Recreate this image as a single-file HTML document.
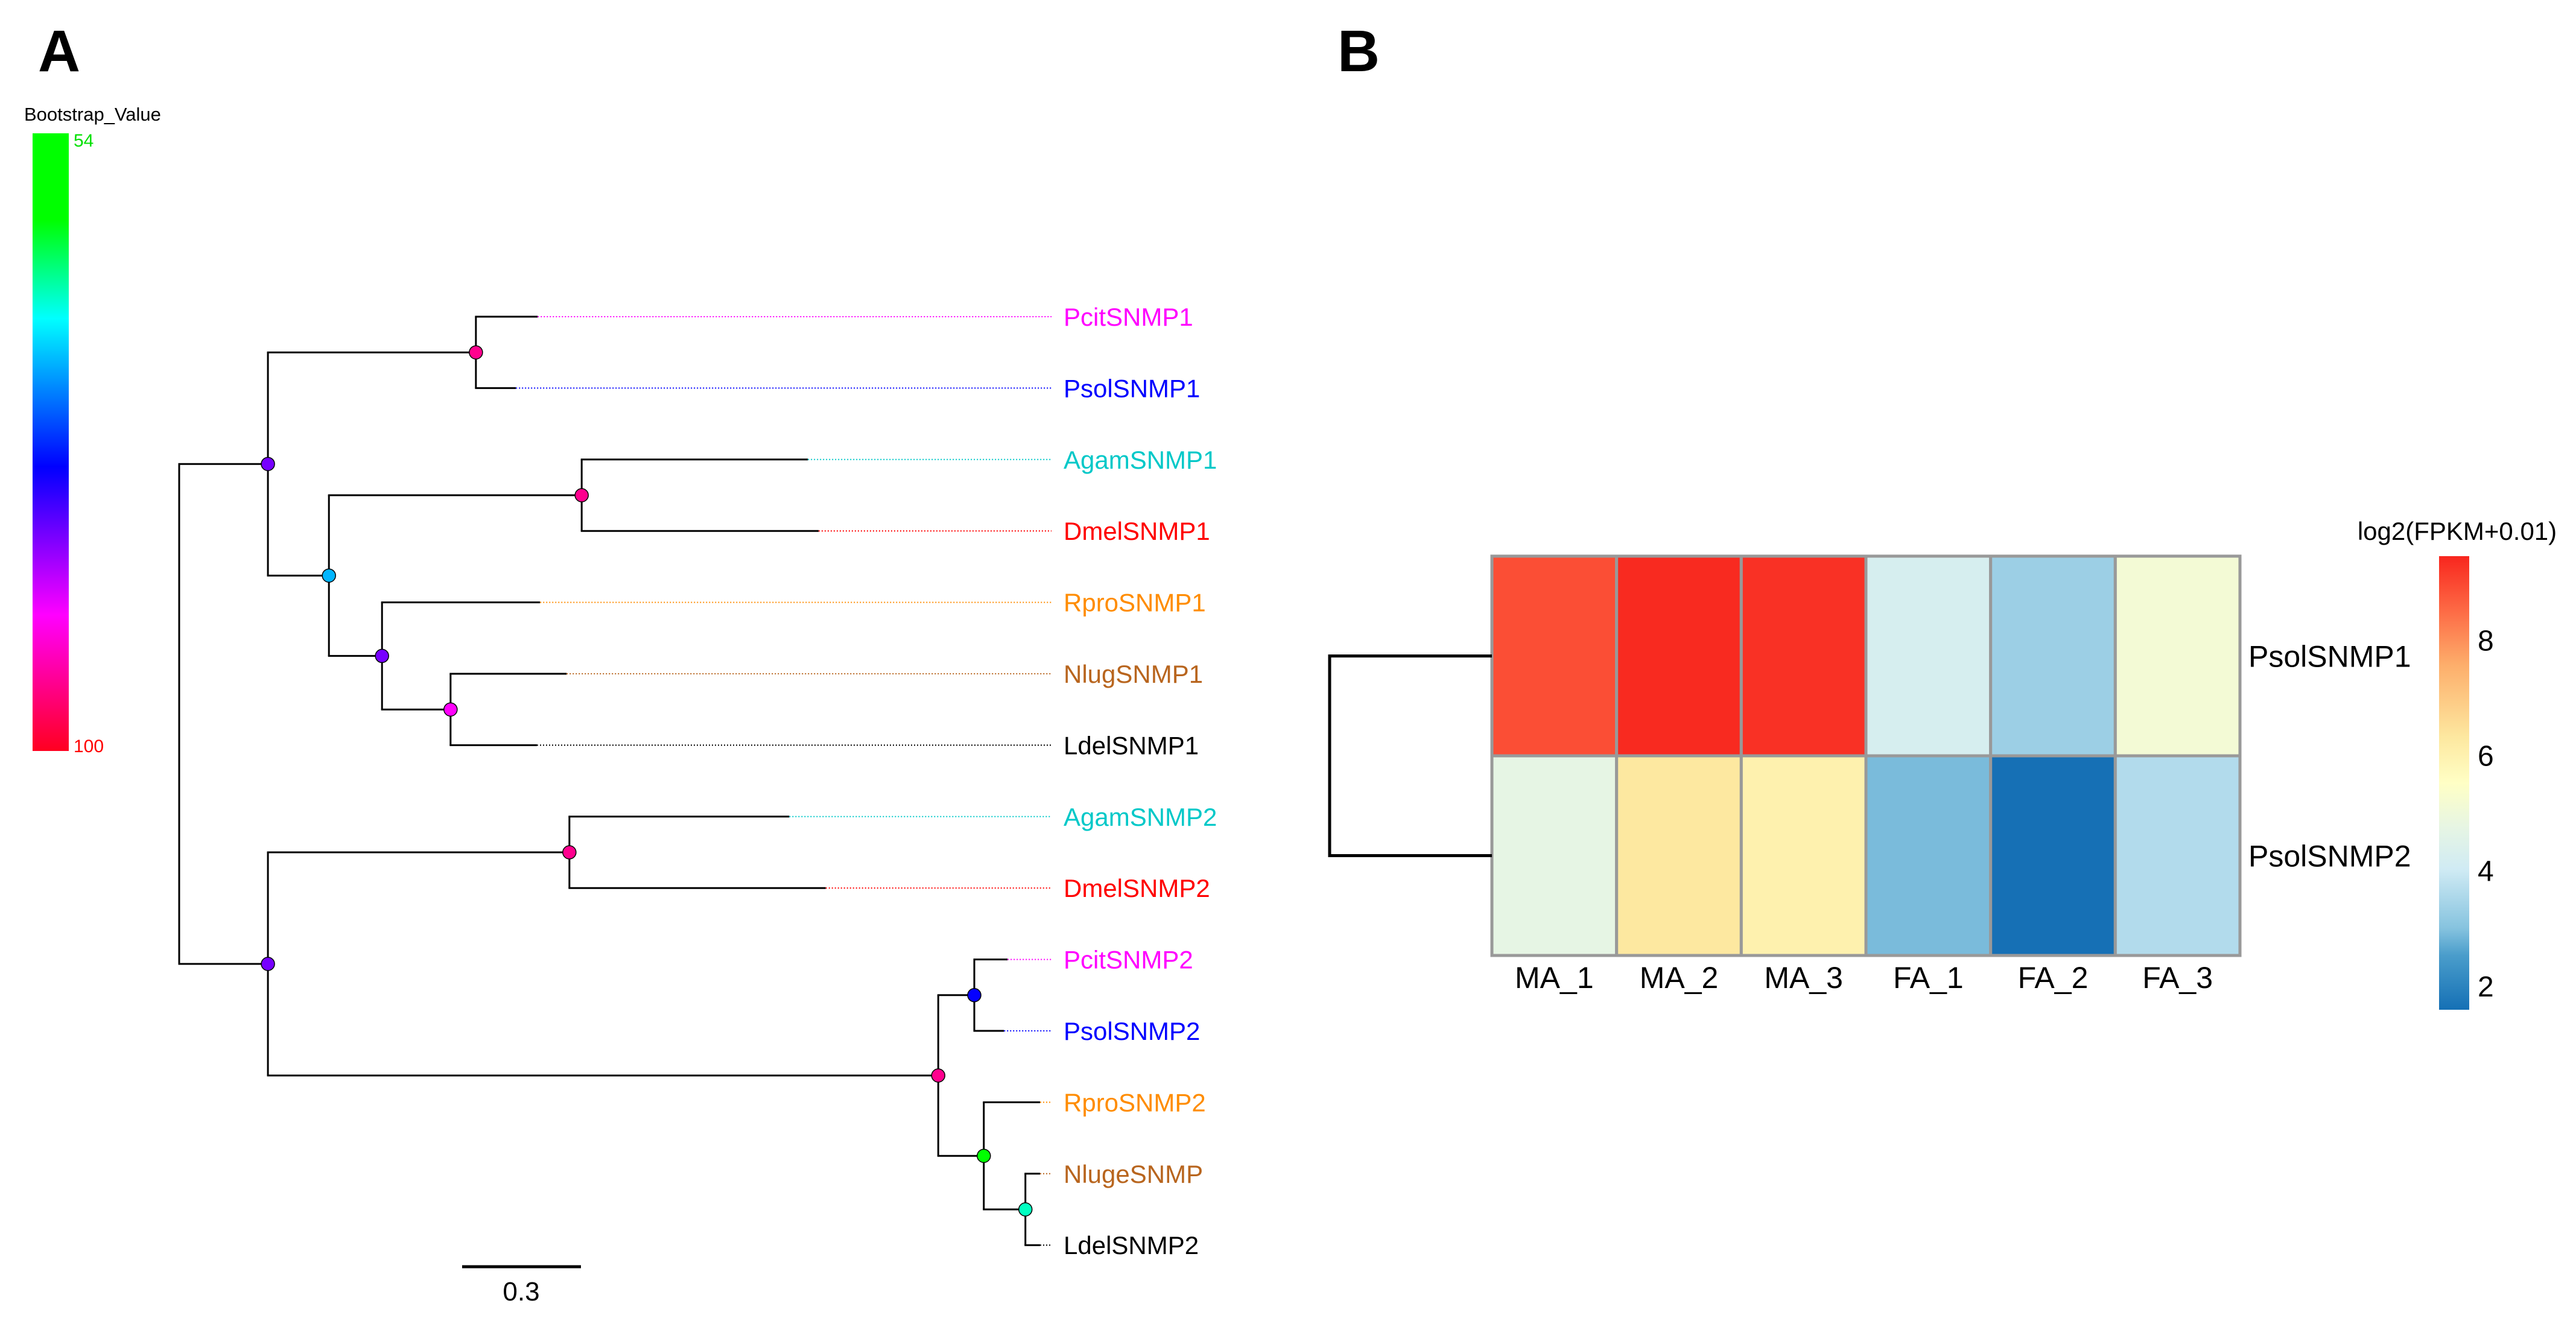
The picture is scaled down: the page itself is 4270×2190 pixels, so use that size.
<!DOCTYPE html>
<html><head><meta charset="utf-8"><style>
html,body{margin:0;padding:0;background:#fff;}
svg{display:block;font-family:"Liberation Sans",sans-serif;}
</style></head><body>
<svg id="fig" width="4270" height="2190" viewBox="0 0 4270 2190" xmlns="http://www.w3.org/2000/svg">
<defs>
<linearGradient id="bsgrad" x1="0" y1="0" x2="0" y2="1">
<stop offset="0" stop-color="#00ff00"/><stop offset="0.14" stop-color="#00ff00"/>
<stop offset="0.30" stop-color="#00ffff"/><stop offset="0.54" stop-color="#0000ff"/>
<stop offset="0.78" stop-color="#ff00ff"/><stop offset="1" stop-color="#ff0020"/>
</linearGradient>
<linearGradient id="hmgrad" x1="0" y1="1" x2="0" y2="0">
<stop offset="0" stop-color="#1570b5"/><stop offset="0.12" stop-color="#4a9dcb"/>
<stop offset="0.18" stop-color="#86c3df"/><stop offset="0.31" stop-color="#d0ebf4"/>
<stop offset="0.40" stop-color="#e6f5e4"/><stop offset="0.50" stop-color="#ffffc5"/>
<stop offset="0.60" stop-color="#fde8a0"/><stop offset="0.76" stop-color="#fdae6b"/>
<stop offset="0.88" stop-color="#fd6a45"/><stop offset="1" stop-color="#f8261e"/>
</linearGradient>
</defs>
<text x="63" y="118" font-size="97" font-weight="bold">A</text>
<text x="2217" y="118" font-size="97" font-weight="bold">B</text>
<text x="40" y="200" font-size="31">Bootstrap_Value</text>
<rect x="54" y="221" width="60" height="1024" fill="url(#bsgrad)"/>
<text x="122" y="243" font-size="30" fill="#00e000">54</text>
<text x="122" y="1247" font-size="30" fill="#ff0000">100</text>
<g id="tree"></g>
<line x1="766" y1="2100" x2="963" y2="2100" stroke="#000" stroke-width="5"/>
<text x="864" y="2156" font-size="44" text-anchor="middle">0.3</text>
<g id="heat"></g>
</svg>
<script>
// ---- Tree data ----
const tipNames = ["PcitSNMP1","PsolSNMP1","AgamSNMP1","DmelSNMP1","RproSNMP1","NlugSNMP1","LdelSNMP1","AgamSNMP2","DmelSNMP2","PcitSNMP2","PsolSNMP2","RproSNMP2","NlugeSNMP","LdelSNMP2"];
const tipColors = ["#ff00ff","#0000ff","#00c8c8","#ff0000","#ff8c00","#b8651e","#000000","#00c8c8","#ff0000","#ff00ff","#0000ff","#ff8c00","#b8651e","#000000"];
const tipDepth = [0.905,0.850,1.587,1.614,0.911,0.978,0.903,1.540,1.632,2.091,2.082,2.173,2.173,2.173];
// internal nodes: children (tip index as number, internal as "n#"), depth, bootstrap
const nodeChildren = [["n1","n2"],["n3","n4"],[0,1],["n5","n6"],[2,3],[4,"n7"],[5,6],["n8","n9"],[7,8],["n10","n11"],[9,10],[11,"n12"],[12,13]];
const nodeDepth = [0,0.224,0.749,0.378,1.016,0.512,0.685,0.224,0.985,1.916,2.007,2.031,2.136];
const nodeBoot = [null,84,95,71,95,84,90,84,95,95,79,57,66];
// fix node index references: map children labels
const kids = [["n1","n7"],["n2","n3"],[0,1],["n4","n5"],[2,3],[4,"n6"],[5,6],["n8","n9"],[7,8],["n10","n11"],[9,10],[11,"n12"],[12,13]];

const NS="http://www.w3.org/2000/svg";
const rootX=297, unit=656.7, tipY0=525, tipStep=118.4, labelX=1763, dotEnd=1743;
const X=d=>rootX+d*unit, Y=i=>tipY0+i*tipStep;
function bootColor(v){
  const t=(v-54)/46;
  const st=[[0,[0,255,0]],[0.14,[0,255,0]],[0.30,[0,255,255]],[0.54,[0,0,255]],[0.78,[255,0,255]],[1,[255,0,32]]];
  for(let i=1;i<st.length;i++){ if(t<=st[i][0]){const a=st[i-1],b=st[i];const f=(t-a[0])/(b[0]-a[0]||1);
    return "rgb("+a[1].map((c,k)=>Math.round(c+(b[1][k]-c)*f)).join(",")+")";}}
  return "rgb(255,0,32)";
}
const tree=document.getElementById('tree');
function mk(tag,attrs,parent){const e=document.createElementNS(NS,tag);for(const k in attrs)e.setAttribute(k,attrs[k]);(parent||tree).appendChild(e);return e;}
function pos(c){ if(typeof c==="number") return {x:X(tipDepth[c]),y:Y(c)}; const n=+c.slice(1); return {x:X(nodeDepth[n]),y:nodeY(n)}; }
function nodeY(n){ const ys=kids[n].map(c=>pos(c).y); return (Math.min(...ys)+Math.max(...ys))/2; }
const dots=[];
for(let n=0;n<kids.length;n++){
  const px=X(nodeDepth[n]); const cs=kids[n].map(pos);
  const v=mk('line',{x1:px,x2:px,y1:Math.min(...cs.map(c=>c.y)),y2:Math.max(...cs.map(c=>c.y)),stroke:'#000','stroke-width':3});
  
  
  cs.forEach(c=>{const h=mk('line',{x1:px-1.5,x2:c.x,y1:c.y,y2:c.y,stroke:'#000','stroke-width':3});
    
    });
  if(nodeBoot[n]!==null) dots.push([px,nodeY(n),nodeBoot[n]]);
}
tipNames.forEach((nm,i)=>{
  const l=mk('line',{x1:X(tipDepth[i]),x2:dotEnd,y1:Y(i),y2:Y(i),stroke:tipColors[i],'stroke-width':2,'stroke-dasharray':'2,3'});
  
  
  const t=mk('text',{x:labelX,y:Y(i)+15,'font-size':42,fill:tipColors[i]});
  t.textContent=nm;
  
  
});
dots.forEach(d=>{const c=mk('circle',{cx:d[0],cy:d[1],r:11,fill:bootColor(d[2]),stroke:'#000','stroke-width':1.5});
  
  });

// ---- Heatmap data ----
const cols=["MA_1","MA_2","MA_3","FA_1","FA_2","FA_3"];
const rows=["PsolSNMP1","PsolSNMP2"];
const row1=[8.9,9.4,9.3,4.2,3.3,5.1];
const row2=[4.7,6.3,6.0,2.9,1.6,3.6];
const legendTicks=[2,4,6,8];
const vals=[row1,row2];
const hm=document.getElementById('heat');
const hx0=2473, hy0=922, cw=(3713-2473)/6, ch=331;
const vmin=1.59, vmax=9.46, lgTop=922, lgBot=1674;
const vy=v=>lgBot-(v-vmin)/(vmax-vmin)*(lgBot-lgTop);
const cstops=[[1.59,[21,112,181]],[2.5,[74,157,203]],[3.0,[134,195,223]],[4.0,[208,235,244]],[4.7,[230,245,228]],[5.5,[255,255,197]],[6.3,[253,232,160]],[7.5,[253,174,107]],[8.5,[253,106,69]],[9.46,[248,38,30]]];
function hmColor(v){for(let i=1;i<cstops.length;i++){if(v<=cstops[i][0]){const a=cstops[i-1],b=cstops[i];const f=Math.max(0,(v-a[0])/(b[0]-a[0]));return "rgb("+a[1].map((c,k)=>Math.round(c+(b[1][k]-c)*f)).join(",")+")";}}return "rgb(248,38,30)";}
vals.forEach((r,ri)=>r.forEach((v,ci)=>{
  const c=mk('rect',{x:hx0+ci*cw,y:hy0+ri*ch,width:cw,height:ch,fill:hmColor(v),stroke:'#999','stroke-width':5},hm);
  
  
}));
rows.forEach((nm,ri)=>{const t=mk('text',{x:3727,y:hy0+ri*ch+ch/2+18,'font-size':50},hm);t.textContent=nm;
  
  });
cols.forEach((nm,ci)=>{const t=mk('text',{x:hx0+ci*cw+cw/2,y:1638,'font-size':50,'text-anchor':'middle'},hm);t.textContent=nm;
  
  });
// row dendrogram
const dx=2204, y1=hy0+ch/2, y2=hy0+ch*1.5;
const dg=mk('path',{d:`M${hx0} ${y1} H${dx} V${y2} H${hx0}`,fill:'none',stroke:'#000','stroke-width':5},hm);


// legend
const lg=mk('rect',{x:4043,y:lgTop,width:50,height:lgBot-lgTop,fill:'url(#hmgrad)'},hm);


const lt=mk('text',{x:4073,y:895,'font-size':42,'text-anchor':'middle'},hm);lt.textContent="log2(FPKM+0.01)";


legendTicks.forEach(v=>{const t=mk('text',{x:4107,y:vy(v)+17,'font-size':48},hm);t.textContent=v;
  
  });
</script>
</body></html>
